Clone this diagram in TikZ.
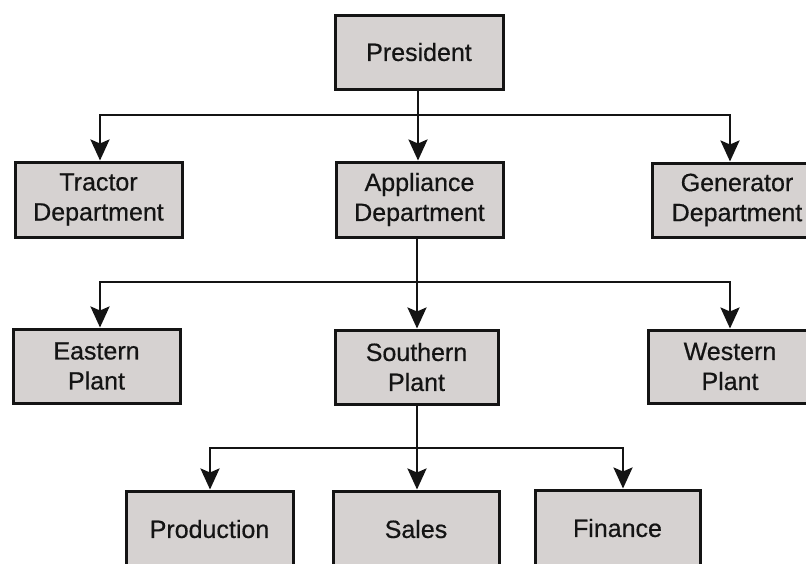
\documentclass[tikz,border=0pt]{standalone}
\usepackage{fontspec}
\setmainfont[FakeBold=0.5]{Liberation Sans}
\usetikzlibrary{arrows.meta}
\definecolor{boxfill}{RGB}{214,210,209}
\definecolor{inkc}{RGB}{20,20,20}
\tikzset{
  unit/.style={draw=inkc, line width=3pt, fill=boxfill, text=inkc,
    align=center, inner sep=0pt, font=\fontsize{25}{30}\selectfont},
  link/.style={draw=inkc, line width=2.6pt},
  arrowlink/.style={link, -{Stealth[width=19pt,length=21pt,inset=4pt]}}
}
\begin{document}
\begin{tikzpicture}[x=1pt,y=-1pt]
\useasboundingbox (0,0) rectangle (806,563);
\clip (0,0) rectangle (806,563);
\fill[white] (0,0) rectangle (806,563);

% top level
\node[unit, minimum width=168pt, minimum height=74pt] (pres) at (419,52) {President};

% departments
\node[unit, minimum width=167pt, minimum height=75pt] (tractor) at (98.5,199.5) {Tractor\\Department};
\node[unit, minimum width=167pt, minimum height=75pt] (appl) at (419.5,199.5) {Appliance\\Department};
\node[unit, minimum width=170pt, minimum height=74pt] (gen) at (737,200) {Generator\\Department};

% plants
\node[unit, minimum width=167pt, minimum height=74pt] (east) at (96.5,366) {Eastern\\Plant};
\node[unit, minimum width=163pt, minimum height=74pt] (south) at (416.5,367) {Southern\\Plant};
\node[unit, minimum width=164pt, minimum height=73pt] (west) at (730,366.5) {Western\\Plant};

% functions
\node[unit, minimum width=167pt, minimum height=76pt] (prod) at (209.5,529) {Production};
\node[unit, minimum width=166pt, minimum height=76pt] (sales) at (416,529) {Sales};
\node[unit, minimum width=165pt, minimum height=76pt] (fin) at (617.5,528) {Finance};

% branch points
\coordinate (b1) at (418,115);
\coordinate (b2) at (417,282);
\coordinate (b3) at (417,448);

% president to departments
\draw[link] (pres.south -| b1) -- (b1);
\draw[arrowlink] (b1) -| ([xshift=1.5pt]tractor.north);
\draw[arrowlink] (b1) -- (b1 |- appl.north);
\draw[arrowlink] (b1) -| ([xshift=-7pt]gen.north);

% appliance department to plants
\draw[link] (appl.south -| b2) -- (b2);
\draw[arrowlink] (b2) -| ([xshift=3.5pt]east.north);
\draw[arrowlink] (b2) -- (b2 |- south.north);
\draw[arrowlink] (b2) -| (west.north);

% southern plant to functions
\draw[link] (south.south -| b3) -- (b3);
\draw[arrowlink] (b3) -| ([xshift=0.5pt]prod.north);
\draw[arrowlink] (b3) -- (b3 |- sales.north);
\draw[arrowlink] (b3) -| ([xshift=5.5pt]fin.north);
\end{tikzpicture}
\end{document}
